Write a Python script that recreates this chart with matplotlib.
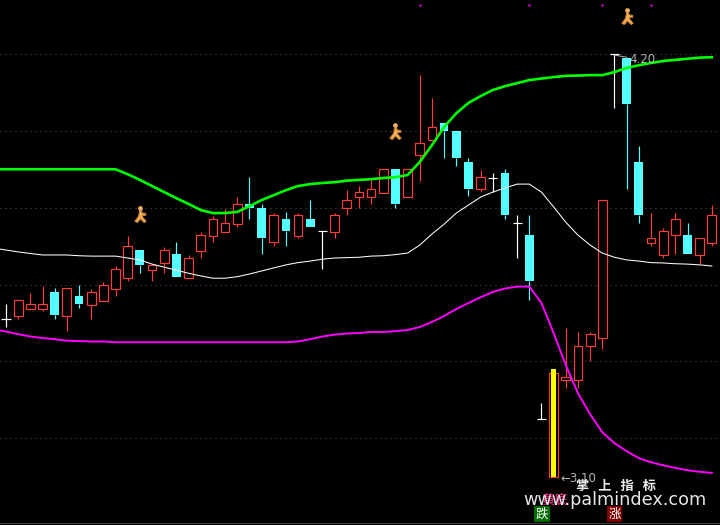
"""Candlestick chart with a three-line price channel, on the black terminal look."""

from __future__ import annotations

import matplotlib

matplotlib.use("Agg")

import matplotlib.pyplot as plt
import numpy as np
from matplotlib.path import Path

OPENS = [3.515, 3.523, 3.541, 3.541, 3.586, 3.523, 3.575, 3.551, 3.562, 3.593,
         3.622, 3.696, 3.643, 3.662, 3.685, 3.622, 3.693, 3.733, 3.743, 3.764,
         3.817, 3.806, 3.717, 3.777, 3.733, 3.777, 3.746, 3.743, 3.806, 3.835,
         3.835, 3.845, 3.908, 3.835, 3.945, 3.985, 4.029, 4.008, 3.927, 3.856,
         3.885, 3.898, 3.767, 3.735, 3.252, 3.100, 3.355, 3.355, 3.444, 3.465,
         4.210, 4.200, 3.927, 3.714, 3.683, 3.735, 3.735, 3.683, 3.714]
HIGHS = [3.554, 3.565, 3.583, 3.601, 3.596, 3.596, 3.604, 3.593, 3.612, 3.654,
         3.732, 3.696, 3.659, 3.704, 3.717, 3.683, 3.743, 3.785, 3.803, 3.835,
         3.887, 3.817, 3.793, 3.796, 3.793, 3.827, 3.746, 3.793, 3.853, 3.864,
         3.880, 3.908, 3.908, 3.908, 4.155, 4.095, 4.029, 4.008, 3.937, 3.906,
         3.898, 3.908, 3.788, 3.788, 3.294, 3.373, 3.491, 3.481, 3.481, 3.827,
         4.210, 4.200, 3.969, 3.793, 3.754, 3.793, 3.767, 3.727, 3.814]
LOWS = [3.494, 3.515, 3.541, 3.536, 3.515, 3.483, 3.544, 3.515, 3.562, 3.575,
        3.614, 3.635, 3.614, 3.635, 3.625, 3.622, 3.675, 3.717, 3.743, 3.756,
        3.777, 3.685, 3.706, 3.706, 3.727, 3.756, 3.646, 3.727, 3.788, 3.806,
        3.817, 3.845, 3.806, 3.835, 3.877, 3.985, 3.937, 3.916, 3.838, 3.848,
        3.848, 3.777, 3.675, 3.565, 3.252, 3.100, 3.334, 3.334, 3.404, 3.436,
        4.069, 3.856, 3.767, 3.706, 3.675, 3.685, 3.685, 3.659, 3.706]
CLOSES = [3.515, 3.565, 3.554, 3.554, 3.525, 3.596, 3.554, 3.586, 3.604, 3.646,
          3.706, 3.657, 3.657, 3.696, 3.625, 3.675, 3.735, 3.777, 3.767, 3.817,
          3.806, 3.727, 3.788, 3.746, 3.788, 3.756, 3.746, 3.788, 3.827, 3.848,
          3.856, 3.908, 3.817, 3.908, 3.977, 4.019, 4.008, 3.937, 3.856, 3.887,
          3.885, 3.788, 3.767, 3.614, 3.252, 3.373, 3.362, 3.444, 3.475, 3.827,
          4.210, 4.079, 3.788, 3.727, 3.746, 3.777, 3.685, 3.727, 3.788]

# channel lines start one bar before the first candle
UPPER = [3.908] * 11 + [
    3.895, 3.880, 3.864, 3.848, 3.832, 3.817, 3.801, 3.793, 3.793, 3.796,
    3.811, 3.827, 3.840, 3.853, 3.864, 3.869, 3.872, 3.874, 3.878, 3.880,
    3.882, 3.885, 3.887, 3.893, 3.927, 3.971, 4.019, 4.055, 4.082, 4.100,
    4.116, 4.126, 4.134, 4.142, 4.146, 4.150, 4.153, 4.154, 4.155, 4.155,
    4.163, 4.174, 4.181, 4.187, 4.192, 4.195, 4.198, 4.201, 4.202]
MIDDLE = [3.701, 3.696, 3.691, 3.687, 3.683, 3.683, 3.683, 3.681, 3.680, 3.680,
          3.680, 3.675, 3.670, 3.659, 3.651, 3.643, 3.635, 3.628, 3.622, 3.622,
          3.626, 3.633, 3.641, 3.649, 3.657, 3.663, 3.667, 3.672, 3.675, 3.676,
          3.677, 3.680, 3.681, 3.684, 3.688, 3.709, 3.738, 3.764, 3.793, 3.814,
          3.835, 3.848, 3.859, 3.869, 3.869, 3.848, 3.809, 3.769, 3.735, 3.709,
          3.688, 3.677, 3.670, 3.667, 3.663, 3.662, 3.660, 3.659, 3.657, 3.654]
LOWER = [3.488, 3.482, 3.475, 3.469, 3.465, 3.462, 3.458, 3.457, 3.456, 3.456] + [3.454] * 15 + [
    3.456, 3.462, 3.469, 3.474, 3.477, 3.478, 3.481, 3.481, 3.483, 3.486,
    3.494, 3.507, 3.523, 3.541, 3.557, 3.572, 3.586, 3.595, 3.600, 3.600,
    3.557, 3.478, 3.394, 3.320, 3.265, 3.218, 3.189, 3.168, 3.150, 3.139,
    3.131, 3.124, 3.118, 3.114, 3.111]

GRID_PRICES = [4.210, 4.008, 3.806, 3.604, 3.404, 3.202]
SIGNAL_BARS = [11, 32, 51]
SIGNAL_PRICES = [3.790, 4.008, 4.310]
DOT_BARS = [34, 43, 49, 53]
DOT_PRICE = 4.339
BOTTOM_BAR = 45
BOTTOM_TOP = 3.384
BOTTOM_BASE = 3.100

RED = "#ff3c3c"
CYAN = "#54ffff"
CJK = ["Noto Sans CJK SC", "DejaVu Sans"]

# little running figure used as the signal marker
RUNNER = Path(
    [(-0.1, 0.45), (0.15, 0.45), (0.2, 0.2), (0.65, 0.12), (0.65, -0.1), (0.25, -0.1),
     (0.25, -0.3), (0.7, -0.85), (0.45, -1.0), (0.0, -0.55), (-0.4, -1.0), (-0.7, -0.85),
     (-0.25, -0.25), (-0.1, 0.45)],
    closed=True,
)


def draw_candles(ax) -> None:
    x = np.arange(len(OPENS))
    opens, highs, lows, closes = map(np.array, (OPENS, HIGHS, LOWS, CLOSES))
    colors = np.where(closes > opens, RED, np.where(closes < opens, CYAN, "white"))
    tops = np.maximum(opens, closes)
    bottoms = np.minimum(opens, closes)

    ax.vlines(x, tops, highs, colors=colors, lw=0.85, zorder=2)
    ax.vlines(x, lows, bottoms, colors=colors, lw=0.85, zorder=2)

    hollow = closes > opens
    ax.bar(x[hollow], (tops - bottoms)[hollow], bottom=bottoms[hollow], width=0.72,
           facecolor="black", edgecolor=RED, linewidth=0.85, zorder=3)
    falling = closes < opens
    ax.bar(x[falling], (tops - bottoms)[falling], bottom=bottoms[falling], width=0.72,
           facecolor=CYAN, edgecolor="none", zorder=3)
    doji = closes == opens
    ax.hlines(opens[doji], x[doji] - 0.38, x[doji] + 0.38, colors="white", lw=0.85, zorder=3)


def main() -> None:
    fig = plt.figure(figsize=(7.2, 5.25), dpi=100, facecolor="black")
    ax = fig.add_axes([0, 0, 1, 1], facecolor="black")
    ax.set_xlim(-0.493, 58.67)
    ax.set_ylim(2.9743, 4.3522)
    ax.set_yticks(GRID_PRICES)
    ax.set_xticks([])
    ax.tick_params(left=False, labelleft=False)
    ax.grid(True, axis="y", color="#5a5a5a", lw=0.72, linestyle=(0, (1, 4)), zorder=0)
    for spine in ax.spines.values():
        spine.set_visible(False)
    ax.axhline(2.9795, color="#404040", lw=0.72, zorder=1)

    draw_candles(ax)

    ax.bar(BOTTOM_BAR, BOTTOM_TOP - BOTTOM_BASE, bottom=BOTTOM_BASE, width=0.42,
           color="#ffff00", zorder=4)

    line_x = np.arange(-1, len(OPENS))
    ax.plot(line_x, UPPER, color="#00ff00", lw=1.9, zorder=5)
    ax.plot(line_x, MIDDLE, color="white", lw=0.75, zorder=5)
    ax.plot(line_x, LOWER, color="#ff00ff", lw=1.4, zorder=5)

    ax.plot(SIGNAL_BARS, SIGNAL_PRICES, linestyle="none", marker=RUNNER, ms=11.5,
            mfc="#f5b060", mec="#c88030", mew=0.8, zorder=6)
    ax.plot(SIGNAL_BARS, np.array(SIGNAL_PRICES) + 0.016, linestyle="none",
            marker="o", ms=3.4, mfc="#f5b060", mec="none", zorder=6)
    ax.plot(DOT_BARS, [DOT_PRICE] * len(DOT_BARS), linestyle="none", marker="s", ms=1.8,
            mfc="#ff00ff", mec="none", zorder=6)

    ax.annotate("4.20", xy=(50.1, 4.207), xytext=(51.25, 4.195), color="#b4b4b4", fontsize=8.5,
                va="center", arrowprops=dict(arrowstyle="-", color="#b4b4b4", lw=0.7, shrinkA=0, shrinkB=0),
                zorder=7)
    ax.text(45.6, 3.097, "←3.10", color="#b4b4b4", fontsize=8.5, va="center", zorder=7)

    # watermark and the two labelled squares, placed by figure fraction
    fig.text(0.856, 0.0735, "掌   上   指   标", color="#f0f0f0", fontsize=9.5, fontweight="bold",
             family=CJK, ha="center", va="center", zorder=8)
    fig.text(0.77, 0.0475, "黄底", color="#ff2080", fontsize=9.5, family=CJK,
             ha="center", va="center", zorder=8)
    fig.text(0.854, 0.0475, "www.palmindex.com", color="#e8e8e8", fontsize=12.7,
             ha="center", va="center", zorder=9)
    fig.text(0.7528, 0.0205, "跌", color="white", fontsize=9, family=CJK, ha="center", va="center",
             bbox=dict(boxstyle="square,pad=0.12", fc="#006c00", ec="none"), zorder=8)
    fig.text(0.8535, 0.0205, "涨", color="white", fontsize=9, family=CJK, ha="center", va="center",
             bbox=dict(boxstyle="square,pad=0.12", fc="#800000", ec="none"), zorder=8)

    fig.savefig("out.png", dpi=100, facecolor="black")
    plt.close(fig)


if __name__ == "__main__":
    main()
